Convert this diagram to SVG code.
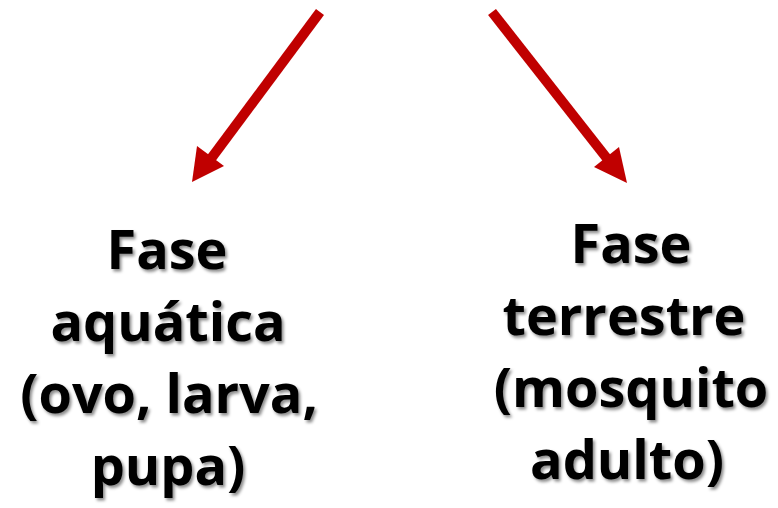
<svg xmlns="http://www.w3.org/2000/svg" width="778" height="508" viewBox="0 0 778 508">
<defs>
<filter id="sh" x="-10%" y="-10%" width="130%" height="140%">
<feDropShadow dx="2" dy="2.5" stdDeviation="1.5" flood-color="#000" flood-opacity="0.45"/>
</filter>
</defs>
<style>
.t{font-family:"Open Sans","Liberation Sans",sans-serif;font-weight:bold;font-size:54px;fill:#000;text-anchor:middle;filter:url(#sh)}
.ln{stroke:#C00000;stroke-width:10;fill:none}
.hd{fill:#C00000}
</style>
<rect width="778" height="508" fill="#fff"/>
<g id="connectors">
<line class="ln" x1="320" y1="12" x2="210" y2="160"/>
<polygon class="hd" points="192,182 197,146 224,166"/>
<line class="ln" x1="492" y1="12" x2="609" y2="161"/>
<polygon class="hd" points="627,183 594,167 619,147"/>
</g>
<g id="aquatica">
<text class="t" x="167" y="269">Fase</text>
<text class="t" x="168" y="341">aquática</text>
<text class="t" x="169" y="413">(ovo, larva,</text>
<text class="t" x="168" y="485">pupa)</text>
</g>
<g id="terrestre">
<text class="t" x="631" y="263">Fase</text>
<text class="t" x="624" y="335">terrestre</text>
<text class="t" x="631" y="407">(mosquito</text>
<text class="t" x="627" y="479">adulto)</text>
</g>
</svg>
